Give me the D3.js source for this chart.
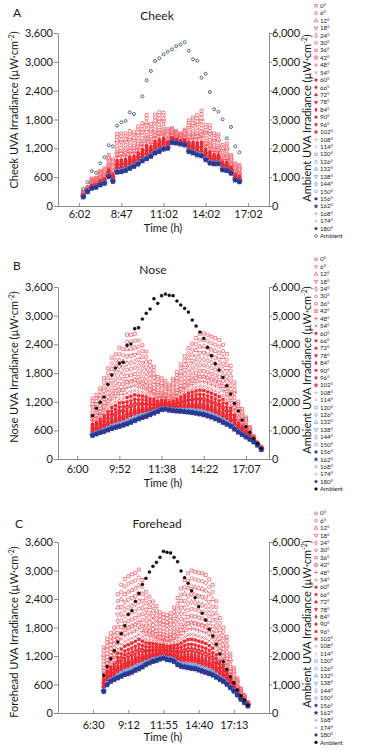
<!DOCTYPE html>
<html><head><meta charset="utf-8">
<script src="https://cdn.jsdelivr.net/npm/d3@7"></script>
<style>
html,body{margin:0;padding:0;background:#fff;}
svg text{font-family:Lato,"Open Sans",sans-serif;fill:#1a1a1a;}
</style></head><body>
<svg id="chart" width="365" height="751"></svg>
<script>
// ---------- DATA ----------
const angles = [0,6,12,18,24,30,36,42,48,54,60,66,72,78,84,90,96,102,108,114,120,126,132,138,144,150,156,162,168,174,180];
// relative position of each angle's reading between the column minimum (180°) and maximum (0°), read from the stacks
const angleLevel = [1.00,0.92,0.84,0.76,0.68,0.61,0.54,0.47,0.41,0.35,0.30,0.25,0.21,0.175,0.145,0.12,0.10,0.08,0.065,0.052,0.042,0.034,0.027,0.021,0.016,0.012,0.009,0.006,0.004,0.002,0.0];

const leftTicks = [0,600,1200,1800,2400,3000,3600];
const rightTicks = [0,1000,2000,3000,4000,5000,6000];

// Cheek (category index of first reading = 6)
const cheekTimeLabels = ["6:02","8:47","11:02","14:02","17:02"];
const cheekTickIdx = [5,15,25,35,45];
const cheekStart = 6;
const cheekTop = [310,390,570,590,730,780,1060,970,1500,1510,1510,1560,1530,1650,1720,1890,1700,1900,1950,1940,1600,1620,1560,1510,1590,1780,1840,1890,1980,1690,1680,1510,1490,1270,1300,1060,890,850];
const cheekBottom = [190,300,370,390,440,470,610,510,700,710,735,780,820,870,935,980,1030,1100,1130,1180,1200,1320,1310,1290,1270,1130,1100,1060,1040,960,890,875,875,750,735,680,540,505];
const cheekAmbient = [590,822,1214,1155,1481,1689,2105,2070,2785,2903,2948,3250,3190,null,3804,4359,4682,5029,5122,5261,5351,5430,5540,5600,5680,5386,5088,5039,4450,4588,3954,3354,3270,3007,2348,2740,2070,1862];

// Nose (first reading at category 9)
const noseTimeLabels = ["6:00","9:52","11:38","14:22","17:07"];
const noseTickIdx = [5,16,27,38,49];
const noseStart = 9;
const noseTop = [1270,1340,1480,1690,1900,2120,2190,2330,2300,2600,2600,2620,2480,2380,2250,2040,1930,1720,1690,1640,1560,1680,1820,1980,2150,2320,2410,2530,2620,2630,2600,2560,2530,2490,2390,2200,1950,1600,1200,1050,870,670,480,340,250];
const noseBottom = [490,520,550,570,600,630,655,675,700,725,760,795,830,860,885,920,955,990,1030,1040,1020,1010,1000,995,985,975,965,950,935,920,895,870,835,800,760,720,680,620,560,510,460,410,360,290,200];
const noseAmbient = [1510,1768,1978,2163,2606,2930,3174,3338,3373,3966,4011,4545,4580,4883,5082,5232,5591,5431,5696,5755,5710,5696,5511,5372,5256,5127,4848,4639,4430,4210,3896,3603,3324,3104,2850,2557,2267,1943,1674,1360,1127,931,722,548,373];

// Forehead (first reading at category 13)
const foreheadTimeLabels = ["6:30","9:12","11:55","14:40","17:13"];
const foreheadTickIdx = [10,20,30,40,50];
const foreheadStart = 13;
const foreheadTop = [1380,1560,1680,1800,2500,2700,2820,2880,2920,2950,3020,2800,2550,2450,2350,2250,2120,2080,2060,2100,2220,2420,2620,2800,2940,3000,2975,2955,2940,2905,2815,2700,2350,2000,1800,1600,1250,950,730,520,380,230];
const foreheadBottom = [450,590,660,700,730,765,800,820,850,890,920,960,1010,1045,1080,1100,1130,1150,1120,1110,1080,1010,975,960,945,930,920,895,870,845,820,790,745,700,660,600,530,460,380,290,220,150];
const foreheadAmbient = [1323,1625,1905,2186,2491,2783,3063,3463,3590,3920,4200,4516,4727,4948,5148,5288,5464,5674,5639,5615,5464,5309,4983,4748,4551,4291,4046,3730,3498,3263,2937,2702,2411,2070,1800,1533,1274,1063,807,607,456,281];

// ---------- LAYOUT ----------
const svg = d3.select("#chart");
const X0 = 58, X1 = 269;
const panels = [
  {letter:"A",letterX:13,letterY:17,title:"Cheek",titleX:157,titleY:20,site:"Cheek",
   yB:206,yT:33,n:50,start:cheekStart,labels:cheekTimeLabels,idx:cheekTickIdx,pad:4,timeY:232,
   lTitleC:110,rTitleC:118,leg0:5.7,legStep:7.43,ambOpen:true,
   top:cheekTop,bottom:cheekBottom,amb:cheekAmbient},
  {letter:"B",letterX:13,letterY:270,title:"Nose",titleX:153,titleY:274,site:"Nose",
   yB:459,yT:287,n:55,start:noseStart,labels:noseTimeLabels,idx:noseTickIdx,pad:6,timeY:487,
   lTitleC:367,rTitleC:370,leg0:259.3,legStep:7.41,ambOpen:false,
   top:noseTop,bottom:noseBottom,amb:noseAmbient},
  {letter:"C",letterX:15,letterY:528,title:"Forehead",titleX:157,titleY:528,site:"Forehead",
   yB:713,yT:542,n:60,start:foreheadStart,labels:foreheadTimeLabels,idx:foreheadTickIdx,pad:8,timeY:741,
   lTitleC:632,rTitleC:624,leg0:513.3,legStep:7.39,ambOpen:false,
   top:foreheadTop,bottom:foreheadBottom,amb:foreheadAmbient}
];

const shapeCycle = ["square","circle","triangle","triangleDown","diamond","circle","square","star","plus","times"];
function shapeOf(k){ return k===30 ? "circle" : shapeCycle[k%10]; }
function styleOf(k){
  if(k<10) return {fill:"#ffffff",stroke:"#f04450",sw:0.65,size:9};
  if(k<20) return {fill:"#ec2a34",stroke:"#ec2a34",sw:0.3,size:9};
  if(k<26) return {fill:"#ffffff",stroke:"#6a8fdc",sw:0.65,size:9};
  return {fill:"#2c3990",stroke:"#2c3990",sw:0.3,size:12};
}
const symMap = {square:d3.symbolSquare,circle:d3.symbolCircle,triangle:d3.symbolTriangle,
  triangleDown:d3.symbolTriangle,diamond:d3.symbolDiamond,star:d3.symbolStar,
  plus:d3.symbolPlus||d3.symbolCross,times:d3.symbolTimes||d3.symbolCross};
function markerPath(sh,size){ return d3.symbol().type(symMap[sh]).size(size)(); }
function rotOf(sh){ return sh==="triangleDown"?180:(sh==="times"&&!d3.symbolTimes?45:0); }
const AX = "#8a8a8a";

function styleAxis(g){
  g.select(".domain").attr("stroke",AX);
  g.selectAll(".tick line").attr("stroke",AX);
  g.selectAll("text").attr("font-size",11).attr("font-family","Lato").attr("fill","#1a1a1a");
  g.attr("font-family",null).attr("font-size",null);
}

function axisTitle(x,yc,text){
  const t = svg.append("text").attr("transform",`translate(${x},${yc}) rotate(-90)`)
    .attr("text-anchor","middle").attr("font-size",11);
  t.append("tspan").text(text+" (µW·cm");
  t.append("tspan").attr("dy",-4).attr("font-size",7).text("-2");
  t.append("tspan").attr("dy",4).text(")");
}

panels.forEach(p=>{
  const x = d3.scaleLinear().domain([0,p.n]).range([X0,X1]);
  const yL = d3.scaleLinear().domain([0,3600]).range([p.yB,p.yT]);
  const yR = d3.scaleLinear().domain([0,6000]).range([p.yB,p.yT]);

  svg.append("g").attr("transform",`translate(${X0},0)`)
    .call(d3.axisLeft(yL).tickValues(leftTicks).tickFormat(d3.format(",")).tickSizeInner(4).tickSizeOuter(0).tickPadding(1))
    .call(styleAxis);
  svg.append("g").attr("transform",`translate(${X1},0)`)
    .call(d3.axisRight(yR).tickValues(rightTicks).tickFormat(d3.format(",")).tickSizeInner(3).tickSizeOuter(0).tickPadding(0))
    .call(styleAxis);
  svg.append("g").attr("transform",`translate(0,${p.yB})`)
    .call(d3.axisBottom(x).tickValues(p.idx).tickFormat((d,i)=>p.labels[i]).tickSizeInner(-3).tickSizeOuter(0).tickPadding(p.pad))
    .call(styleAxis);

  // titles
  svg.append("text").attr("x",p.letterX).attr("y",p.letterY).attr("font-size",12).text(p.letter);
  svg.append("text").attr("x",p.titleX).attr("y",p.titleY).attr("text-anchor","middle").attr("font-size",12).text(p.title);
  svg.append("text").attr("x",163).attr("y",p.timeY).attr("text-anchor","middle").attr("font-size",11).text("Time (h)");
  axisTitle(18,p.lTitleC,p.site+" UVA Irradiance");
  axisTitle(311,p.rTitleC,"Ambient UVA Irradiance");

  // angle series
  const gm = svg.append("g");
  angles.forEach((a,k)=>{
    const sh = shapeOf(k), st = styleOf(k), d = markerPath(sh,st.size), r = rotOf(sh);
    gm.selectAll(null).data(p.top.map((t,j)=>({j:j, v:p.bottom[j]+angleLevel[k]*(t-p.bottom[j])})))
      .join("path").attr("d",d)
      .attr("transform",q=>`translate(${x(p.start+q.j)},${yL(q.v)}) rotate(${r})`)
      .attr("fill",st.fill).attr("stroke",st.stroke).attr("stroke-width",st.sw);
  });
  // ambient
  gm.selectAll(null).data(p.amb.map((v,j)=>({j:j,v:v})).filter(q=>q.v!==null))
    .join("circle").attr("cx",q=>x(p.start+q.j)).attr("cy",q=>yR(q.v))
    .attr("r",p.ambOpen?1.5:1.6)
    .attr("fill",p.ambOpen?"#ffffff":"#111111")
    .attr("stroke",p.ambOpen?"#3f5c66":"#111111").attr("stroke-width",p.ambOpen?0.9:0.3);

  // legend
  const lg = svg.append("g");
  angles.forEach((a,k)=>{
    const sh = shapeOf(k), st = styleOf(k), yy = p.leg0 + k*p.legStep;
    lg.append("path").attr("d",markerPath(sh,6))
      .attr("transform",`translate(316,${yy}) rotate(${rotOf(sh)})`)
      .attr("fill",st.fill).attr("stroke",st.stroke).attr("stroke-width",st.sw);
    lg.append("text").attr("x",320).attr("y",yy).attr("dy","0.35em").attr("font-size",6.1).text(a+"°");
  });
  const ya = p.leg0 + 31*p.legStep;
  lg.append("circle").attr("cx",316).attr("cy",ya).attr("r",p.ambOpen?1.4:1.3)
    .attr("fill",p.ambOpen?"#fff":"#111").attr("stroke",p.ambOpen?"#3f5c66":"#111").attr("stroke-width",0.7);
  lg.append("text").attr("x",320).attr("y",ya).attr("dy","0.35em").attr("font-size",6.1).text("Ambient");
});
</script>
</body></html>
